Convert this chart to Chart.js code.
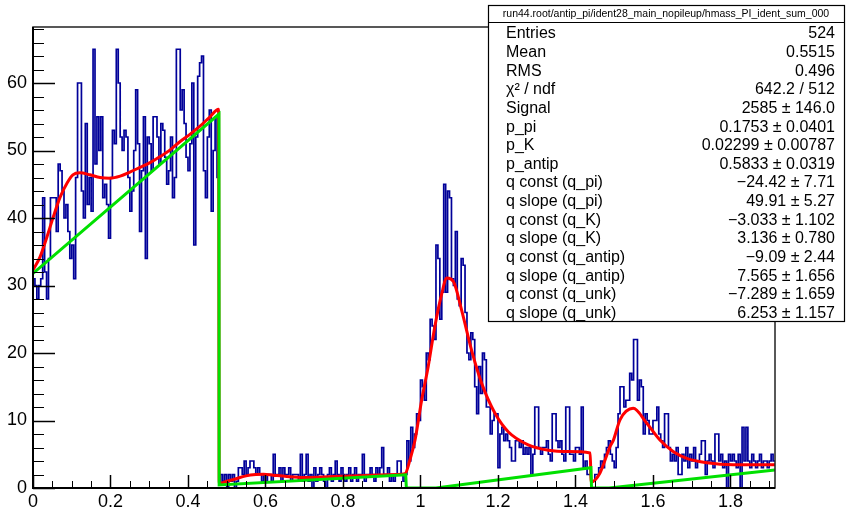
<!DOCTYPE html>
<html>
<head>
<meta charset="utf-8">
<script src="https://cdn.jsdelivr.net/npm/chart.js@4"></script>
<style>
html, body { margin: 0; padding: 0; background: #fff; }
canvas { display: block; }
</style>
</head>
<body>
<canvas id="c" width="846" height="509"></canvas>
<script>
// Histogram binning
const binWidth = 0.005;
const xRangeMax = 1.915;
const yRangeMax = 68.3;

// Bin contents, one array per mass region
const countsPi = [
  31,30,28,30,31,43,32,28,34,43,
  43,43,38,48,47,44,40,42,38,34,
  36,31,46,60,60,44,40,54,42,46,
  41,65,48,55,50,55,43,45,42,37,
  46,53,51,65,60,52,50,53,52,46,
  41,44,50,59,51,38,47,55,34,52,
  51,47,55,55,52,48,54,53,49,45,
  47,52,43,46,65,65,56,59,54,49,
  47,51,60,36,52,61,63,64,47,43,
  52,56,41,50,55,46
];
const countsK = [
  1,2,1,2,0,2,1,2,0,1,
  3,3,2,4,2,3,4,4,3,2,
  3,2,1,2,1,2,2,1,5,2,
  2,3,1,3,2,2,3,1,2,2,
  2,1,5,1,2,5,1,2,0,3,
  1,2,3,2,1,0,2,3,1,2,
  4,2,1,3,2,1,2,3,1,2,
  3,1,2,2,5,1,2,2,3,2,
  1,3,2,3,6,2,2,3,1,2,
  1,2,4,4,2,1
];
const countsAntip = [
  2,7,4,9,6,8,11,10,16,15,
  13,20,19,25,24,22,36,34,25,29,
  45,29,44,43,31,30,38,28,27,34,
  33,26,20,19,23,22,15,11,18,14,
  20,19,12,12,8,10,11,11,3,8,
  9,7,8,7,6,4,4,7,7,6,
  7,5,6,5,6,2,5,12,12,6,
  5,6,6,7,5,4,11,11,7,6,
  7,5,4,12,12,5,5,4,6,6,
  5,12,3,4,2,2
];
const countsUnk = [
  1,1,2,2,3,4,3,5,6,7,
  5,4,3,6,11,15,15,12,13,13,
  17,16,22,22,13,16,15,8,11,10,
  8,8,10,10,12,8,7,6,11,11,
  6,4,5,4,6,2,2,5,4,6,
  3,5,4,6,3,4,5,7,7,2,
  4,5,4,3,8,8,4,5,3,4,
  0,5,4,5,4,3,5,0,9,4,
  9,4,3,5,4,3,4,5,3,4,
  4,3,4,5,4
];

// Total fit function, sampled along x
const fitX = [
  0, 0.018, 0.036, 0.052, 0.07, 0.088, 0.103, 0.121, 0.147, 0.173,
  0.199, 0.225, 0.25, 0.276, 0.302, 0.328, 0.354, 0.379, 0.405, 0.431,
  0.457, 0.479,
  0.4805, 0.49, 0.52, 0.55, 0.575, 0.595, 0.62, 0.655, 0.7, 0.774,
  0.862, 0.94, 0.96,
  0.973, 0.986, 1.003, 1.02, 1.037, 1.055, 1.068, 1.085, 1.106, 1.132,
  1.158, 1.192, 1.227, 1.278, 1.33, 1.381, 1.438,
  1.4405, 1.463, 1.489, 1.498, 1.515, 1.549, 1.584, 1.618, 1.652, 1.687,
  1.739, 1.807, 1.915
];
const fitY = [
  32.3, 34.2, 37.2, 40.1, 43.1, 45.2, 46.4, 46.7, 46.4, 46.0,
  45.9, 46.2, 46.8, 47.5, 48.2, 49.1, 50.1, 51.3, 52.4, 53.6,
  55.0, 56.1,
  0.6, 0.8, 1.3, 1.8, 2.0, 2.05, 1.9, 1.7, 1.55, 1.7,
  1.85, 2.0, 2.1,
  4.2, 7.1, 13.0, 18.0, 23.9, 28.8, 31.1, 30.6, 26.4, 20.4,
  15.5, 11.1, 8.3, 6.4, 5.6, 5.4, 5.2,
  0.9, 2.2, 6.1, 7.1, 10.1, 11.8, 9.6, 7.1, 5.4, 4.4,
  3.75, 3.45, 3.45
];

// Background part of the fit
const bkgX = [0, 0.48, 0.4805, 0.962, 0.9635, 1.04, 1.44, 1.4415, 1.487, 1.915];
const bkgY = [31.8, 55.4, 0.45, 1.95, 0, 0, 3.0, 0, 0, 2.67];

// Axis tick labels
const xTickValues = [0, 0.2, 0.4, 0.6, 0.8, 1, 1.2, 1.4, 1.6, 1.8];
const xTickLabels = ['0', '0.2', '0.4', '0.6', '0.8', '1', '1.2', '1.4', '1.6', '1.8'];
const yTickValues = [0, 10, 20, 30, 40, 50, 60];
const yTickLabels = ['0', '10', '20', '30', '40', '50', '60'];

// Statistics box
const statsTitle = 'run44.root/antip_pi/ident28_main_nopileup/hmass_PI_ident_sum_000';
const statNames = [
  'Entries', 'Mean', 'RMS', '\u03C7\u00B2 / ndf', 'Signal', 'p_pi', 'p_K', 'p_antip',
  'q const (q_pi)', 'q slope (q_pi)', 'q const (q_K)', 'q slope (q_K)',
  'q const (q_antip)', 'q slope (q_antip)', 'q const (q_unk)', 'q slope (q_unk)'
];
const statValues = [
  '524', '0.5515', '0.496', '642.2 / 512', '2585 \u00B1 146.0', '0.1753 \u00B1 0.0401',
  '0.02299 \u00B1 0.00787', '0.5833 \u00B1 0.0319', '\u221224.42 \u00B1 7.71', '49.91 \u00B1 5.27',
  '\u22123.033 \u00B1 1.102', '3.136 \u00B1 0.780', '\u22129.09 \u00B1 2.44', '7.565 \u00B1 1.656',
  '\u22127.289 \u00B1 1.659', '6.253 \u00B1 1.157'
];

const FONT = '"Liberation Sans", Arial, Helvetica, sans-serif';

// Build the step outline: one point per bin low edge, plus the final upper edge
const counts = [].concat(countsPi, countsK, countsAntip, countsUnk);
const histPoints = counts.map((v, i) => ({ x: i * binWidth, y: v }));
histPoints.push({ x: counts.length * binWidth, y: counts[counts.length - 1] });

const fitPoints = fitX.map((x, i) => ({ x: x, y: fitY[i] }));
const bkgPoints = bkgX.map((x, i) => ({ x: x, y: bkgY[i] }));

// Frame, inward tick marks and the statistics box
const framePlugin = {
  id: 'frame',
  afterDatasetsDraw(chart) {
    const { ctx, chartArea: a, scales } = chart;
    const xs = scales.x, ys = scales.y;
    ctx.save();
    ctx.strokeStyle = '#222';
    ctx.lineWidth = 1.5;
    ctx.strokeRect(a.left, a.top, a.right - a.left, a.bottom - a.top);

    ctx.strokeStyle = '#000';
    // x ticks
    for (let k = 0; k * 0.05 <= xRangeMax + 1e-9; k++) {
      const v = k * 0.05;
      const major = k % 4 === 0;
      const px = Math.round(xs.getPixelForValue(v)) + 0.5;
      ctx.lineWidth = major ? 1.5 : 1;
      ctx.beginPath();
      ctx.moveTo(px, a.bottom);
      ctx.lineTo(px, a.bottom - (major ? 13 : 7));
      ctx.stroke();
    }
    // y ticks
    for (let k = 0; k * 2 <= yRangeMax; k++) {
      const v = k * 2;
      const major = k % 5 === 0;
      const py = Math.round(ys.getPixelForValue(v)) + 0.5;
      ctx.lineWidth = major ? 1.5 : 1;
      ctx.beginPath();
      ctx.moveTo(a.left, py);
      ctx.lineTo(a.left + (major ? 22 : 11), py);
      ctx.stroke();
    }
    // axis lines
    ctx.lineWidth = 2;
    ctx.beginPath();
    ctx.moveTo(a.left, a.top);
    ctx.lineTo(a.left, a.bottom);
    ctx.lineTo(a.right, a.bottom);
    ctx.stroke();
    ctx.restore();
  },
  afterDraw(chart) {
    const ctx = chart.ctx;
    const bx = 488, by = 5, bw = 357, bh = 316;
    ctx.save();
    ctx.fillStyle = '#fff';
    ctx.fillRect(bx, by, bw, bh);
    ctx.strokeStyle = '#000';
    ctx.lineWidth = 1.2;
    ctx.strokeRect(bx + 0.5, by + 0.5, bw - 1, bh);
    const titleH = 17.5;
    ctx.beginPath();
    ctx.moveTo(bx, by + titleH);
    ctx.lineTo(bx + bw, by + titleH);
    ctx.stroke();

    ctx.fillStyle = '#000';
    ctx.textBaseline = 'middle';
    ctx.textAlign = 'center';
    ctx.font = '10.5px ' + FONT;
    ctx.fillText(statsTitle, bx + bw / 2 - 0.5, by + titleH / 2 + 0.5);

    ctx.font = '16px ' + FONT;
    const rowH = (bh - titleH) / statNames.length;
    statNames.forEach((name, i) => {
      const y = by + titleH + rowH * (i + 0.5) + 2;
      ctx.textAlign = 'left';
      ctx.fillText(name, 506, y);
      ctx.textAlign = 'right';
      ctx.fillText(statValues[i], 835, y);
    });
    ctx.restore();
  }
};

new Chart(document.getElementById('c'), {
  type: 'line',
  data: {
    datasets: [
      {
        data: bkgPoints,
        borderColor: '#00e000',
        borderWidth: 3,
        pointRadius: 0,
        tension: 0,
        order: 0
      },
      {
        data: fitPoints,
        borderColor: '#ff0000',
        borderWidth: 3,
        pointRadius: 0,
        cubicInterpolationMode: 'monotone',
        order: 1
      },
      {
        data: histPoints,
        borderColor: '#000099',
        borderWidth: 1.7,
        pointRadius: 0,
        stepped: 'before',
        order: 2
      }
    ]
  },
  options: {
    responsive: false,
    animation: false,
    layout: { padding: { top: 27, right: 71, left: 0, bottom: 0 } },
    plugins: { legend: { display: false }, tooltip: { enabled: false } },
    scales: {
      x: {
        type: 'linear',
        min: 0,
        max: xRangeMax,
        grid: { display: false, drawTicks: false },
        border: { display: false },
        afterBuildTicks: s => { s.ticks = xTickValues.map(v => ({ value: v })); },
        afterFit: s => { s.height = 21; },
        ticks: {
          color: '#000',
          font: { family: FONT, size: 18 },
          padding: 3,
          maxRotation: 0,
          autoSkip: false,
          callback: v => xTickLabels[xTickValues.indexOf(v)]
        }
      },
      y: {
        type: 'linear',
        min: 0,
        max: yRangeMax,
        grid: { display: false, drawTicks: false },
        border: { display: false },
        afterBuildTicks: s => { s.ticks = yTickValues.map(v => ({ value: v })); },
        afterFit: s => { s.width = 33; },
        ticks: {
          color: '#000',
          font: { family: FONT, size: 18 },
          padding: 6,
          autoSkip: false,
          callback: v => yTickLabels[yTickValues.indexOf(v)]
        }
      }
    }
  },
  plugins: [framePlugin]
});
</script>
</body>
</html>
